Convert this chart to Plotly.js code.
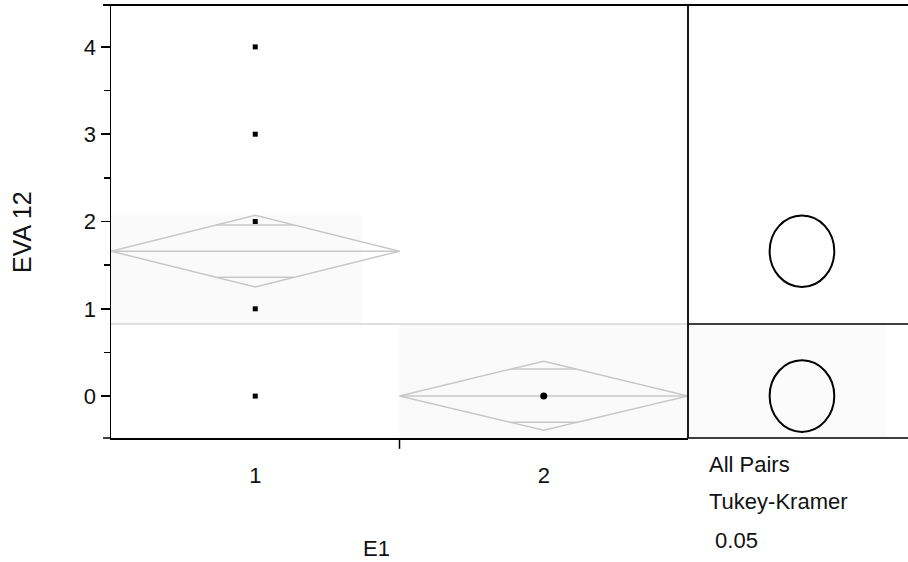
<!DOCTYPE html>
<html>
<head>
<meta charset="utf-8">
<script src="https://cdn.plot.ly/plotly-3.0.1.min.js"></script>
<style>html,body{margin:0;padding:0;background:#fff;}#chart{width:908px;height:562px;}</style>
</head>
<body>
<div id="chart"></div>
<script>
// ---- data ----
const categories = ['1', '2'];
const group1Values = [0, 1, 2, 3, 4];
const group2Values = [0];
const groupMeans = [1.66, 0.0];
const ciLower = [1.25, -0.39];
const ciUpper = [2.07, 0.40];
const overlapLower = [1.36, -0.30];
const overlapUpper = [1.96, 0.31];
const grandMean = 0.825;
const circleRadius = [0.41, 0.41];
const yTickVals = [0, 1, 2, 3, 4];
const yTickText = ['0', '1', '2', '3', '4'];
const panelLabels = ['All Pairs', 'Tukey-Kramer', ' 0.05'];
const xTitle = 'E1';
const yTitle = 'EVA 12';

// ---- styling / layout ----
const FONT = 'Liberation Sans, Arial, sans-serif';
const TXT = '#111';
const DIAM = '#c8c8c8';
const mainFrac = 577 / 797;
const yRange = [-0.48, 4.48];

const traces = [];
const shapes = [];

// very faint group shading
shapes.push({type:'rect', xref:'x', yref:'y', x0:0, x1:0.87, y0:grandMean, y1:ciUpper[0],
  fillcolor:'#fafafa', line:{width:0}, layer:'below'});
shapes.push({type:'rect', xref:'x', yref:'y', x0:1.0, x1:2.0, y0:yRange[0], y1:grandMean,
  fillcolor:'#fafafa', line:{width:0}, layer:'below'});
shapes.push({type:'rect', xref:'x2', yref:'y', x0:0, x1:0.9, y0:yRange[0], y1:grandMean,
  fillcolor:'#fbfbfb', line:{width:0}, layer:'below'});

// grand mean line
traces.push({x:[0, 2], y:[grandMean, grandMean], xaxis:'x', yaxis:'y', mode:'lines',
  line:{color:'#d6d6d6', width:1.5}, hoverinfo:'skip', showlegend:false});

// means diamonds
categories.forEach((c, i) => {
  const m = groupMeans[i], lo = ciLower[i], hi = ciUpper[i];
  const x0 = i, x1 = i + 1, xc = i + 0.5;
  traces.push({x:[x0, xc, x1, xc, x0], y:[m, hi, m, lo, m], mode:'lines',
    line:{color:DIAM, width:1.5}, hoverinfo:'skip', showlegend:false});
  traces.push({x:[x0, x1], y:[m, m], mode:'lines',
    line:{color:DIAM, width:1.5}, hoverinfo:'skip', showlegend:false});
  [[overlapUpper[i], hi], [overlapLower[i], lo]].forEach(([yv, tip]) => {
    const frac = 1 - (yv - m) / (tip - m);
    const hw = 0.5 * frac;
    traces.push({x:[xc - hw, xc + hw], y:[yv, yv], mode:'lines',
      line:{color:DIAM, width:1.5}, hoverinfo:'skip', showlegend:false});
  });
});

// points
traces.push({x:group1Values.map(() => 0.5), y:group1Values, mode:'markers',
  marker:{symbol:'square', size:5, color:'#000'}, showlegend:false});
traces.push({x:group2Values.map(() => 1.5), y:group2Values, mode:'markers',
  marker:{symbol:'circle', size:7, color:'#000'}, showlegend:false});

// comparison circles
const circX = 0.518, circRX = 0.147;
groupMeans.forEach((m, i) => {
  shapes.push({type:'circle', xref:'x2', yref:'y', x0:circX - circRX, x1:circX + circRX,
    y0:m - circleRadius[i], y1:m + circleRadius[i], line:{color:'#000', width:2}});
});

// frame lines
shapes.push({type:'line', xref:'paper', yref:'paper', x0:-0.01, x1:1, y0:1, y1:1,
  line:{color:'#000', width:2}});
shapes.push({type:'line', xref:'paper', yref:'paper', x0:mainFrac, x1:mainFrac, y0:0, y1:1,
  line:{color:'#000', width:1.8}});
shapes.push({type:'line', xref:'x2', yref:'y', x0:0, x1:1, y0:grandMean, y1:grandMean,
  line:{color:'#000', width:1.5}});
shapes.push({type:'line', xref:'paper', yref:'paper', x0:mainFrac, x1:1, y0:0, y1:0,
  line:{color:'#000', width:1.5}});
shapes.push({type:'line', xref:'paper', yref:'paper', x0:-0.01, x1:0, y0:0, y1:0,
  line:{color:'#000', width:1.5}});
// divider tick between groups
shapes.push({type:'line', xref:'x', yref:'paper', x0:1, x1:1, y0:0, y1:-0.025,
  line:{color:'#000', width:1.5}});

const annotations = [];
panelLabels.forEach((t, k) => {
  annotations.push({text:t, xref:'paper', yref:'paper', x:mainFrac + 19/797, xanchor:'left',
    y:-(26 + 38*k)/433, yanchor:'middle', showarrow:false,
    font:{family:FONT, size:22, color:TXT}});
});
annotations.push({text:xTitle, xref:'paper', yref:'paper', x:(376-111)/797, xanchor:'center',
  y:-110/433, yanchor:'middle', showarrow:false, font:{family:FONT, size:22, color:TXT}});
annotations.push({text:yTitle, xref:'paper', yref:'paper', x:(22-111)/797, xanchor:'center',
  y:(438-232)/433, yanchor:'middle', textangle:-90, showarrow:false,
  font:{family:FONT, size:25, color:TXT}});

const layout = {
  width:908, height:562,
  margin:{l:111, r:0, t:5, b:124},
  paper_bgcolor:'#fff', plot_bgcolor:'rgba(0,0,0,0)',
  showlegend:false,
  xaxis:{domain:[0, mainFrac], range:[0, 2], showgrid:false, zeroline:false,
    showline:true, linecolor:'#000', linewidth:1.5,
    tickvals:categories.map((c, i) => i + 0.5), ticktext:categories,
    ticks:'outside', ticklen:17, tickcolor:'rgba(0,0,0,0)',
    tickfont:{family:FONT, size:22, color:TXT}},
  xaxis2:{domain:[mainFrac, 1], range:[0, 1], anchor:'y', showgrid:false, zeroline:false,
    showline:false, showticklabels:false, ticks:''},
  yaxis:{range:yRange, showgrid:false, zeroline:false,
    showline:true, linecolor:'#000', linewidth:1.5,
    tickvals:yTickVals, ticktext:yTickText,
    ticks:'outside', ticklen:9, tickwidth:1.5, tickcolor:'#000',
    minor:{dtick:0.5, tick0:0, ticks:'outside', ticklen:6, tickwidth:1.5, tickcolor:'#000', showgrid:false},
    tickfont:{family:FONT, size:22, color:TXT}},
  shapes:shapes,
  annotations:annotations
};

Plotly.newPlot('chart', traces, layout, {staticPlot:true, displayModeBar:false});
</script>
</body>
</html>
